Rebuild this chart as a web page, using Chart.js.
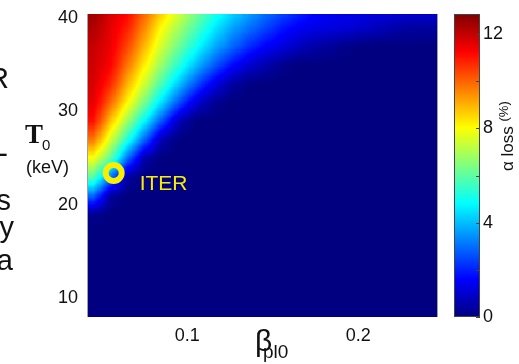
<!DOCTYPE html>
<html>
<head>
<meta charset="utf-8">
<script src="https://cdn.jsdelivr.net/npm/chart.js@4.4.0/dist/chart.umd.min.js"></script>
<style>
  html, body { margin: 0; padding: 0; background: #fff; }
  #wrap { position: relative; width: 519px; height: 364px; }
</style>
</head>
<body>
<div id="wrap"><canvas id="heat" width="519" height="364"></canvas></div>
<script>
// cell centres of the map
const betaValues = [0.045, 0.055, 0.065, 0.075, 0.085, 0.095, 0.105, 0.115, 0.125, 0.135, 0.145,
                    0.155, 0.165, 0.175, 0.185, 0.195, 0.205, 0.215, 0.225, 0.235, 0.245];
const tempValues = [41, 39, 37, 35, 33, 31, 29, 27, 25, 23, 21, 19, 17, 15, 13, 11, 9]; // keV, top row first

// alpha loss (%), one row per T0
const alphaLoss = [
  [12.6, 11.8, 11.3, 10.1, 8.8, 7.6, 6.5, 5.5, 4.6, 3.9, 3.2, 2.7, 2.2, 1.7, 1.5, 1.4, 1.3, 1.3, 1.2, 1.2, 1.2],
  [12.3, 11.6, 10.9, 9.5, 8.0, 6.9, 5.8, 4.7, 3.8, 3.1, 2.5, 1.9, 1.5, 1.3, 1.2, 1.1, 0.9, 0.7, 0.5, 0.4, 0.4],
  [12.0, 11.5, 10.4, 8.9, 7.4, 6.2, 5.0, 3.9, 3.0, 2.2, 1.6, 1.2, 0.8, 0.5, 0.3, 0.1, 0, 0, 0, 0, 0],
  [11.9, 11.3, 9.8, 8.2, 6.7, 5.3, 4.0, 2.8, 1.8, 1.1, 0.6, 0.2, 0, 0, 0, 0, 0, 0, 0, 0, 0],
  [11.8, 10.8, 9.0, 7.4, 5.7, 4.1, 2.6, 1.4, 0.5, 0.1, 0, 0, 0, 0, 0, 0, 0, 0, 0, 0, 0],
  [11.6, 10.0, 8.1, 6.3, 4.4, 2.6, 1.1, 0.3, 0, 0, 0, 0, 0, 0, 0, 0, 0, 0, 0, 0, 0],
  [11.1, 8.8, 6.8, 4.7, 2.6, 0.7, 0, 0, 0, 0, 0, 0, 0, 0, 0, 0, 0, 0, 0, 0, 0],
  [9.8, 7.5, 5.2, 2.8, 0.6, 0, 0, 0, 0, 0, 0, 0, 0, 0, 0, 0, 0, 0, 0, 0, 0],
  [7.9, 6.0, 2.9, 0.5, 0, 0, 0, 0, 0, 0, 0, 0, 0, 0, 0, 0, 0, 0, 0, 0, 0],
  [5.9, 3.1, 0.4, 0, 0, 0, 0, 0, 0, 0, 0, 0, 0, 0, 0, 0, 0, 0, 0, 0, 0],
  [2.9, 0.4, 0, 0, 0, 0, 0, 0, 0, 0, 0, 0, 0, 0, 0, 0, 0, 0, 0, 0, 0],
  [0.2, 0, 0, 0, 0, 0, 0, 0, 0, 0, 0, 0, 0, 0, 0, 0, 0, 0, 0, 0, 0],
  [0, 0, 0, 0, 0, 0, 0, 0, 0, 0, 0, 0, 0, 0, 0, 0, 0, 0, 0, 0, 0],
  [0, 0, 0, 0, 0, 0, 0, 0, 0, 0, 0, 0, 0, 0, 0, 0, 0, 0, 0, 0, 0],
  [0, 0, 0, 0, 0, 0, 0, 0, 0, 0, 0, 0, 0, 0, 0, 0, 0, 0, 0, 0, 0],
  [0, 0, 0, 0, 0, 0, 0, 0, 0, 0, 0, 0, 0, 0, 0, 0, 0, 0, 0, 0, 0],
  [0, 0, 0, 0, 0, 0, 0, 0, 0, 0, 0, 0, 0, 0, 0, 0, 0, 0, 0, 0, 0]
];

const betaTicks = [0.1, 0.2];
const tempTicks = [10, 20, 30, 40];
const lossTicks = [0, 4, 8, 12];
const lossMinorTicks = [0, 2, 4, 6, 8, 10, 12];
const lossMax = 12.85;
const iterPoint = [{ x: 0.057, y: 23.4 }];

const FONT = '"Liberation Sans", Arial, Helvetica, sans-serif';
const YELLOW = '#f8ee00';

function jet(f) {
  const c = t => Math.max(0, Math.min(1, t));
  return [c(1.5 - Math.abs(4 * f - 3)), c(1.5 - Math.abs(4 * f - 2)), c(1.5 - Math.abs(4 * f - 1))]
    .map(v => Math.round(v * 255));
}

const heatmapPlugin = {
  id: 'heatmap',
  beforeDatasetsDraw(chart) {
    const { ctx, chartArea: a, scales: { x, y } } = chart;
    const nx = betaValues.length, ny = tempValues.length;
    const dB = betaValues[1] - betaValues[0];
    const dT = tempValues[0] - tempValues[1];
    const left = x.getPixelForValue(betaValues[0] - dB / 2);
    const right = x.getPixelForValue(betaValues[nx - 1] + dB / 2);
    const top = y.getPixelForValue(tempValues[0] + dT / 2);
    const bottom = y.getPixelForValue(tempValues[ny - 1] - dT / 2);

    // tiny grey image, one pixel per cell
    const src = document.createElement('canvas');
    src.width = nx; src.height = ny;
    const sctx = src.getContext('2d');
    const img = sctx.createImageData(nx, ny);
    alphaLoss.forEach((row, j) => row.forEach((v, i) => {
      const k = (j * nx + i) * 4;
      const g = Math.round(v / lossMax * 255);
      img.data[k] = g; img.data[k + 1] = g; img.data[k + 2] = g; img.data[k + 3] = 255;
    }));
    sctx.putImageData(img, 0, 0);

    // smooth shading like matlab "shading interp", then jet colours
    const w = Math.round(a.right - a.left), h = Math.round(a.bottom - a.top);
    const big = document.createElement('canvas');
    big.width = w; big.height = h;
    const bctx = big.getContext('2d');
    bctx.imageSmoothingEnabled = true;
    bctx.drawImage(src, left - a.left, top - a.top, right - left, bottom - top);
    const px = bctx.getImageData(0, 0, w, h);
    for (let k = 0; k < px.data.length; k += 4) {
      const c = jet(px.data[k] / 255);
      px.data[k] = c[0]; px.data[k + 1] = c[1]; px.data[k + 2] = c[2]; px.data[k + 3] = 255;
    }
    bctx.putImageData(px, 0, 0);
    ctx.drawImage(big, a.left, a.top);
  }
};

const decorPlugin = {
  id: 'decor',
  afterDraw(chart) {
    const { ctx, chartArea: a, scales: { cb } } = chart;
    ctx.save();

    // thin frame left / right of the map
    ctx.strokeStyle = '#a0a0a0';
    ctx.lineWidth = 1;
    ctx.beginPath();
    ctx.moveTo(a.left - 0.5, a.top); ctx.lineTo(a.left - 0.5, a.bottom);
    ctx.moveTo(a.right + 0.5, a.top); ctx.lineTo(a.right + 0.5, a.bottom);
    ctx.stroke();

    // ITER label next to the marker
    const p = chart.getDatasetMeta(0).data[0];
    ctx.fillStyle = YELLOW;
    ctx.font = '21px ' + FONT;
    ctx.textAlign = 'left';
    ctx.textBaseline = 'alphabetic';
    ctx.fillText('ITER', p.x + 26, p.y + 17);

    // colour bar
    const cbL = cb.left + 17, cbR = cb.left + 43;
    const cT = cb.getPixelForValue(lossMax), cB = cb.getPixelForValue(0);
    const grad = ctx.createLinearGradient(0, cB, 0, cT);
    [0, 0.125, 0.375, 0.625, 0.875, 1].forEach(f => grad.addColorStop(f, 'rgb(' + jet(f).join(',') + ')'));
    ctx.fillStyle = grad;
    ctx.fillRect(cbL, cT, cbR - cbL, cB - cT);
    ctx.strokeStyle = '#444';
    ctx.strokeRect(cbL + 0.5, cT + 0.5, cbR - cbL - 1, cB - cT - 1);
    ctx.beginPath();
    lossMinorTicks.forEach(v => {
      const yy = Math.round(cb.getPixelForValue(v)) + 0.5;
      ctx.moveTo(cbR - 4, yy); ctx.lineTo(cbR, yy);
    });
    ctx.stroke();

    // colour bar title, rotated
    ctx.fillStyle = '#111';
    ctx.translate(513, 171);
    ctx.rotate(-Math.PI / 2);
    ctx.font = '17px ' + FONT;
    ctx.fillText('\u03b1 loss', 0, 0);
    const wl = ctx.measureText('\u03b1 loss ').width;
    ctx.font = '13px ' + FONT;
    ctx.fillText('(%)', wl, -5);
    ctx.setTransform(1, 0, 0, 1, 0, 0);

    // axis titles
    ctx.fillStyle = '#111';
    ctx.font = 'bold 27px "Liberation Serif", "Times New Roman", serif';
    ctx.fillText('T', 25, 143);
    ctx.font = '15px ' + FONT;
    ctx.fillText('0', 42, 150);
    ctx.font = '18px ' + FONT;
    ctx.fillText('(keV)', 26, 173);
    ctx.font = '30px ' + FONT;
    ctx.fillText('\u03b2', 255, 351);
    ctx.font = '19px ' + FONT;
    ctx.fillText('pl0', 263, 358);

    // cut-off words of the slide text at the left edge
    ctx.font = '29px ' + FONT;
    ctx.textAlign = 'right';
    ctx.fillText('R', 9, 88);
    ctx.fillText('-', 8, 163);
    ctx.fillText('s', 11, 210);
    ctx.fillText('y', 14, 237);
    ctx.fillText('a', 13, 270);
    ctx.restore();
  }
};

const noPad = s => { s.paddingTop = 0; s.paddingBottom = 0; s.paddingLeft = 0; s.paddingRight = 0; };

new Chart(document.getElementById('heat'), {
  type: 'scatter',
  data: {
    datasets: [{
      data: iterPoint,
      pointRadius: 8,
      pointHoverRadius: 8,
      borderWidth: 6,
      borderColor: YELLOW,
      backgroundColor: 'rgba(0,0,0,0)'
    }]
  },
  options: {
    responsive: false,
    animation: false,
    events: [],
    layout: { padding: { top: 10, left: 0, right: 0, bottom: 0 } },
    plugins: { legend: { display: false }, tooltip: { enabled: false } },
    scales: {
      x: {
        type: 'linear', min: 0.042, max: 0.246,
        grid: { display: false, drawTicks: false }, border: { display: false },
        afterBuildTicks: s => { s.ticks = betaTicks.map(v => ({ value: v })); },
        ticks: { font: { family: FONT, size: 18 }, color: '#111', padding: 8, callback: v => String(v) },
        afterFit: s => { s.height = 47; noPad(s); }
      },
      y: {
        type: 'linear', min: 8, max: 40.4,
        grid: { display: false, drawTicks: false }, border: { display: false },
        afterBuildTicks: s => { s.ticks = tempTicks.map(v => ({ value: v })); },
        ticks: { font: { family: FONT, size: 18 }, color: '#111', padding: 10 },
        afterFit: s => { s.width = 88; noPad(s); }
      },
      cb: {
        type: 'linear', position: 'right', min: 0, max: lossMax,
        grid: { display: false, drawTicks: false }, border: { display: false },
        afterBuildTicks: s => { s.ticks = lossTicks.map(v => ({ value: v })); },
        ticks: { font: { family: FONT, size: 18 }, color: '#111', padding: 46 },
        afterFit: s => { s.width = 82; noPad(s); }
      }
    }
  },
  plugins: [heatmapPlugin, decorPlugin]
});
</script>
</body>
</html>
